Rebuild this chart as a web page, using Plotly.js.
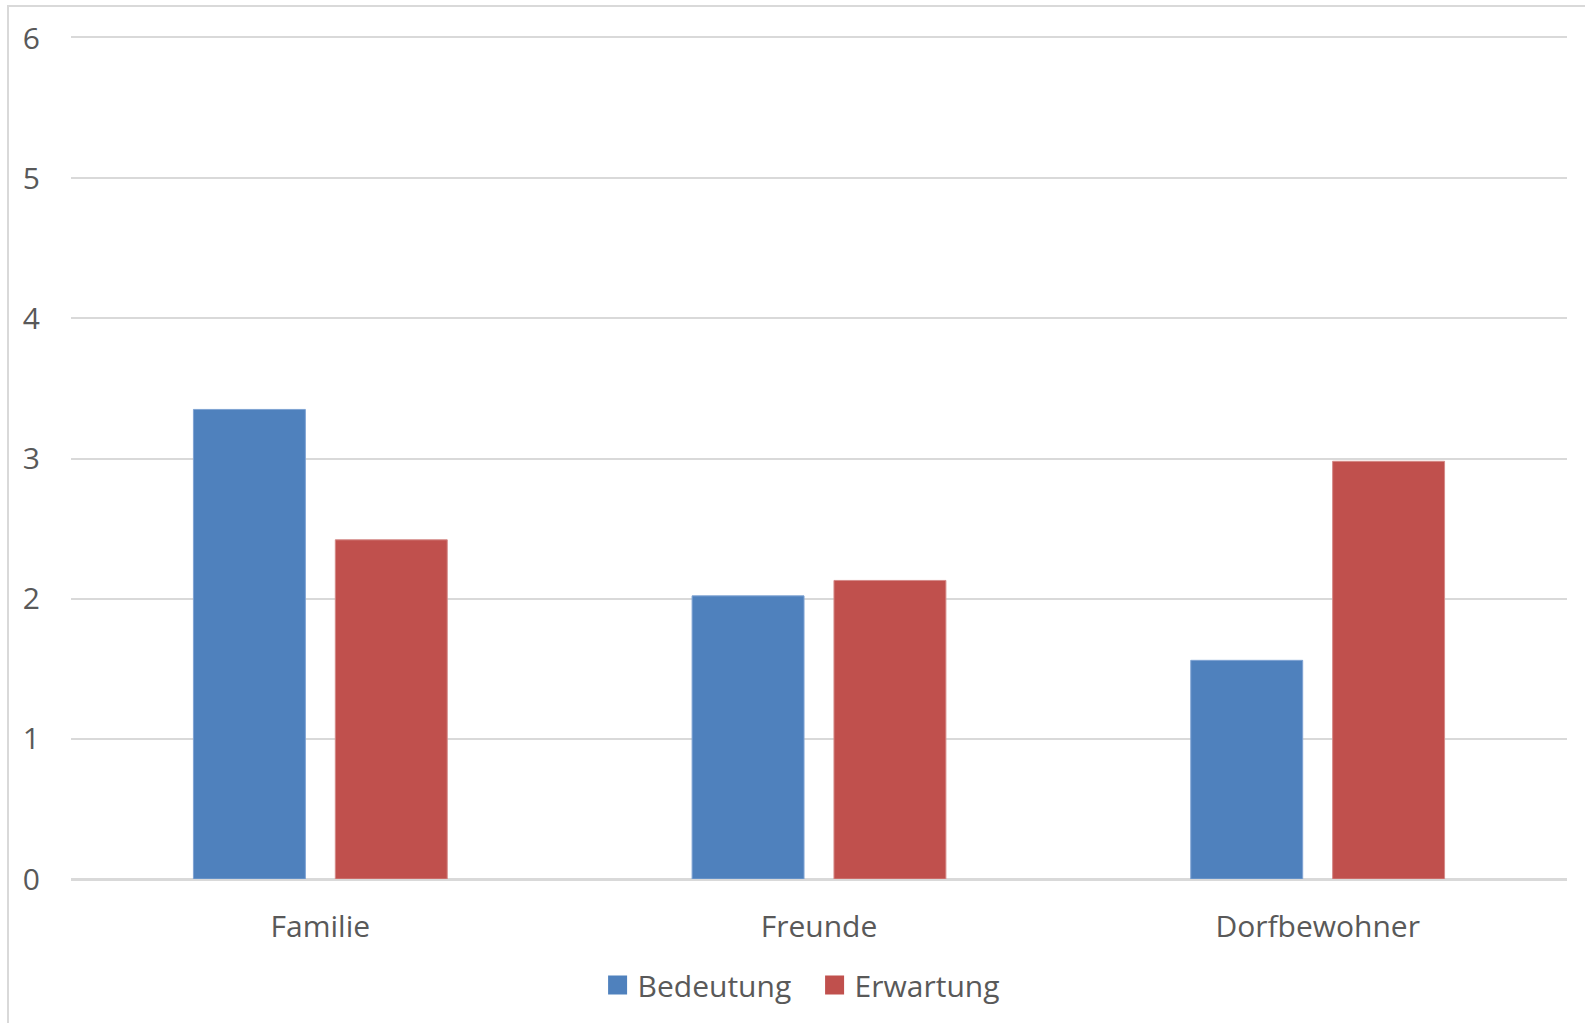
<!DOCTYPE html>
<html>
<head>
<meta charset="utf-8">
<script src="https://cdn.plot.ly/plotly-3.0.1.min.js"></script>
<style>
  html, body { margin: 0; padding: 0; background: #ffffff; }
  #wrap { position: relative; width: 1585px; height: 1023px; overflow: hidden; }
  #chart { position: absolute; left: 0; top: 0; width: 1585px; height: 1023px; }
  #frame { position: absolute; left: 7px; top: 5px; width: 1600px; height: 1100px;
           border-left: 2px solid #d9d9d9; border-top: 2px solid #d9d9d9; pointer-events: none; }
</style>
</head>
<body>
<div id="wrap">
  <div id="chart"></div>
  <div id="frame"></div>
</div>
<script>
const categories = ["Familie", "Freunde", "Dorfbewohner"];
const seriesNames = ["Bedeutung", "Erwartung"];
const bedeutung = [3.35, 2.02, 1.56];
const erwartung = [2.42, 2.13, 2.98];
const yTicks = [0, 1, 2, 3, 4, 5, 6];

const colors = ["#4f81bd", "#c0504d"];
const textColor = "#595959";
const gridColor = "#d9d9d9";
const fontFamily = "'Open Sans', 'Noto Sans', sans-serif";

const traces = [
  { type: "bar", name: seriesNames[0], x: categories, y: bedeutung,
    marker: { color: colors[0], line: { color: "#7fa3d3", width: 1 } }, hoverinfo: "x+y" },
  { type: "bar", name: seriesNames[1], x: categories, y: erwartung,
    marker: { color: colors[1], line: { color: "#d58a88", width: 1 } }, hoverinfo: "x+y" }
];

const layout = {
  width: 1585, height: 1023,
  paper_bgcolor: "rgba(0,0,0,0)",
  plot_bgcolor: "#ffffff",
  margin: { l: 71, r: 18, t: 38, b: 142, pad: 0 },
  barmode: "group",
  bargap: 0.431,
  bargroupgap: 0.211,
  font: { family: fontFamily, size: 30, color: textColor },
  xaxis: {
    type: "category",
    showgrid: false, zeroline: false,
    showline: true, mirror: true, linecolor: gridColor, linewidth: 2,
    ticks: "", ticklabelstandoff: 20,
    tickfont: { family: fontFamily, size: 30, color: textColor }
  },
  yaxis: {
    range: [0, 6], tickvals: yTicks, ticktext: yTicks.map(String),
    showgrid: true, gridcolor: gridColor, gridwidth: 2,
    zeroline: true, zerolinecolor: gridColor, zerolinewidth: 2,
    showline: false, ticks: "", ticklabelstandoff: 30,
    tickfont: { family: fontFamily, size: 30, color: textColor }
  },
  showlegend: true,
  legend: {
    orientation: "h", x: 0.352, xanchor: "left", y: -0.126, yanchor: "middle",
    entrywidth: 172, entrywidthmode: "pixels",
    font: { family: fontFamily, size: 30, color: textColor },
    bgcolor: "rgba(0,0,0,0)", itemclick: false, itemdoubleclick: false,
    traceorder: "normal"
  }
};

Plotly.newPlot("chart", traces, layout, { displayModeBar: false, staticPlot: true }).then(function (gd) {
  // enlarge legend swatches to match the reference
  gd.querySelectorAll(".legend .legendpoints path").forEach(function (p) {
    p.setAttribute("d", "M9.5,9.5H-9.5V-9.5H9.5Z");
    p.style.strokeWidth = "0px";
  });
});
</script>
</body>
</html>
